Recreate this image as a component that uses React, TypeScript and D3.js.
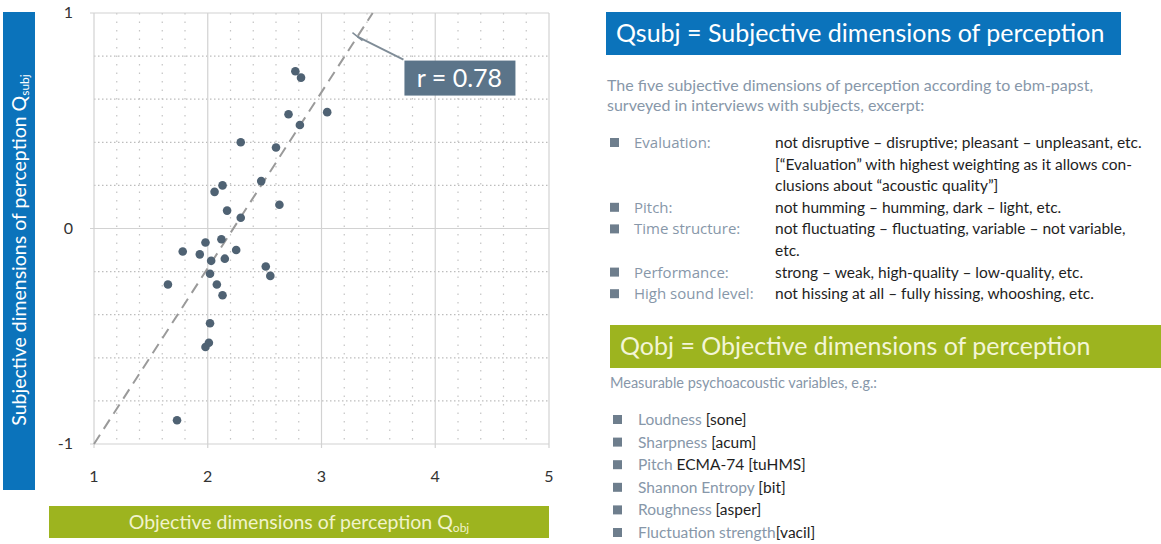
import React, { useEffect, useRef } from 'react';
import * as d3 from 'd3';

// Scatter points: objective (x) vs subjective (y)
const qObj = [2.77, 2.82, 3.05, 2.71, 2.81, 2.29, 2.60, 2.47, 2.06, 2.13, 2.63, 2.17, 2.29, 1.98, 2.12, 2.25, 1.78, 1.93, 2.03, 2.15, 2.51, 2.55, 2.02, 1.65, 2.08, 2.13, 2.02, 2.01, 1.98, 1.73];
const qSubj = [0.73, 0.70, 0.54, 0.53, 0.48, 0.40, 0.376, 0.22, 0.17, 0.20, 0.11, 0.083, 0.05, -0.065, -0.05, -0.10, -0.107, -0.12, -0.15, -0.14, -0.176, -0.22, -0.21, -0.26, -0.26, -0.31, -0.44, -0.53, -0.55, -0.89];

// Regression line endpoints and correlation
const fitX = [1, 3.45];
const fitY = [-1, 1];
const markerX = 3.316;
const rLabel = 'r = 0.78';

const xTicks = [1, 2, 3, 4, 5];
const yTicks = [-1, 0, 1];

const subjItems = [
  { label: 'Evaluation:', lines: ['not disruptive – disruptive; pleasant – unpleasant, etc.', '[“Evaluation” with highest weighting as it allows con-', 'clusions about “acoustic quality”]'] },
  { label: 'Pitch:', lines: ['not humming – humming, dark – light, etc.'] },
  { label: 'Time structure:', lines: ['not fluctuating – fluctuating, variable – not variable,', 'etc.'] },
  { label: 'Performance:', lines: ['strong – weak, high-quality – low-quality, etc.'] },
  { label: 'High sound level:', lines: ['not hissing at all – fully hissing, whooshing, etc.'] },
];

const objItems = [
  { label: 'Loudness ', unit: '[sone]' },
  { label: 'Sharpness ', unit: '[acum]' },
  { label: 'Pitch ', unit: 'ECMA-74 [tuHMS]' },
  { label: 'Shannon Entropy ', unit: '[bit]' },
  { label: 'Roughness ', unit: '[asper]' },
  { label: 'Fluctuation strength', unit: '[vacil]' },
];

const BLUE = '#0b73bb';
const GREEN = '#9db41f';
const SLATE = '#4f6273';
const LABEL = '#8797a9';
const FONT = 'Lato, "Open Sans", sans-serif';

const App: React.FC = () => {
  const ref = useRef<SVGSVGElement | null>(null);

  useEffect(() => {
    if (!ref.current) return;
    const svg = d3.select(ref.current);
    svg.selectAll('*').remove();
    svg.style('font-family', FONT);

    const x = d3.scaleLinear().domain([1, 5]).range([94, 549]);
    const y = d3.scaleLinear().domain([-1, 1]).range([444, 13]);

    const plot = svg.append('g');

    // minor grid (dotted)
    const minorX = d3.range(1, 5, 0.2).filter(v => Math.abs(v - Math.round(v)) > 0.01);
    const minorY = d3.range(-1, 1, 0.2).filter(v => Math.abs(v - Math.round(v)) > 0.01);
    plot.selectAll('.vminor').data(minorX).enter().append('line')
      .attr('x1', d => x(d)).attr('x2', d => x(d))
      .attr('y1', y(1)).attr('y2', y(-1))
      .attr('stroke', '#c4c4c4').attr('stroke-width', 1.2)
      .attr('stroke-dasharray', '1.5,7');
    plot.selectAll('.hminor').data(minorY).enter().append('line')
      .attr('x1', x(1)).attr('x2', x(5))
      .attr('y1', d => y(d)).attr('y2', d => y(d))
      .attr('stroke', '#bdbdbd').attr('stroke-width', 1.2)
      .attr('stroke-dasharray', '1.5,2.5');

    // major grid
    plot.selectAll('.vmajor').data(xTicks).enter().append('line')
      .attr('x1', d => x(d)).attr('x2', d => x(d))
      .attr('y1', y(1)).attr('y2', y(-1) + 4)
      .attr('stroke', '#d2d2d2').attr('stroke-width', 1.2);
    plot.selectAll('.hmajor').data(yTicks).enter().append('line')
      .attr('x1', x(1) - 4).attr('x2', x(5))
      .attr('y1', d => y(d)).attr('y2', d => y(d))
      .attr('stroke', '#d2d2d2').attr('stroke-width', 1.2);

    // tick labels
    plot.selectAll('.xt').data(xTicks).enter().append('text')
      .attr('x', d => x(d)).attr('y', 482)
      .attr('text-anchor', 'middle')
      .attr('font-size', 16).attr('fill', '#333')
      .text(d => String(d));
    plot.selectAll('.yt').data(yTicks).enter().append('text')
      .attr('x', 73).attr('y', d => y(d) + 5)
      .attr('text-anchor', 'end')
      .attr('font-size', 16).attr('fill', '#333')
      .text(d => String(d));

    // regression line
    const fit = fitX.map((v, i) => [v, fitY[i]] as [number, number]);
    plot.append('path')
      .attr('d', d3.line<[number, number]>().x(d => x(d[0])).y(d => y(d[1]))(fit) || '')
      .attr('fill', 'none').attr('stroke', '#9a9a9a').attr('stroke-width', 2)
      .attr('stroke-dasharray', '11,7');

    // callout
    const slope = (fitY[1] - fitY[0]) / (fitX[1] - fitX[0]);
    const my = fitY[0] + slope * (markerX - fitX[0]);
    const mx = x(markerX), myPx = y(my);
    plot.append('line')
      .attr('x1', mx - 5).attr('y1', myPx - 4).attr('x2', mx + 5).attr('y2', myPx + 4)
      .attr('stroke', '#7f8c97').attr('stroke-width', 1.5);
    plot.append('line')
      .attr('x1', mx).attr('y1', myPx).attr('x2', mx + 46).attr('y2', myPx + 23)
      .attr('stroke', '#7f8c97').attr('stroke-width', 1.8);
    plot.append('rect')
      .attr('x', mx + 47).attr('y', myPx + 24).attr('width', 111).attr('height', 35)
      .attr('fill', '#5b7489');
    plot.append('text')
      .attr('x', mx + 102).attr('y', myPx + 50)
      .attr('text-anchor', 'middle').attr('fill', '#fff').attr('font-size', 25)
      .text(rLabel);

    // points
    plot.selectAll('.pt').data(qObj).enter().append('circle')
      .attr('cx', d => x(d)).attr('cy', (_, i) => y(qSubj[i]))
      .attr('r', 4.3).attr('fill', SLATE);

    // y axis title bar
    svg.append('rect').attr('x', 3).attr('y', 12).attr('width', 32).attr('height', 478).attr('fill', BLUE);
    const yt = svg.append('text')
      .attr('transform', 'translate(26,250) rotate(-90)')
      .attr('text-anchor', 'middle').attr('fill', '#fff').attr('font-size', 19.5);
    yt.append('tspan').text('Subjective dimensions of perception Q');
    yt.append('tspan').attr('font-size', 12).attr('dy', 3).text('subj');

    // x axis title bar
    svg.append('rect').attr('x', 49).attr('y', 506).attr('width', 500).attr('height', 32).attr('fill', GREEN);
    const xt = svg.append('text')
      .attr('x', 299).attr('y', 529)
      .attr('text-anchor', 'middle').attr('fill', '#f1f3cc').attr('font-size', 19.5);
    xt.append('tspan').text('Objective dimensions of perception Q');
    xt.append('tspan').attr('font-size', 12).attr('dy', 3).text('obj');

    // right panel: subjective
    svg.append('rect').attr('x', 606).attr('y', 12).attr('width', 515).attr('height', 43).attr('fill', BLUE);
    svg.append('text').attr('x', 616).attr('y', 42).attr('fill', '#fff').attr('font-size', 25)
      .text('Qsubj = Subjective dimensions of perception');

    svg.append('text').attr('x', 607).attr('y', 91).attr('fill', LABEL).attr('font-size', 16)
      .text('The five subjective dimensions of perception according to ebm-papst,');
    svg.append('text').attr('x', 607).attr('y', 111).attr('fill', LABEL).attr('font-size', 16)
      .text('surveyed in interviews with subjects, excerpt:');

    const lineH = 21.6;
    let row = 0;
    subjItems.forEach(item => {
      const by = 148 + row * lineH;
      svg.append('rect').attr('x', 610).attr('y', by - 10).attr('width', 9).attr('height', 9).attr('fill', '#6e7e8d');
      svg.append('text').attr('x', 634).attr('y', by).attr('fill', LABEL).attr('font-size', 15)
        .attr('font-family', '"Open Sans", sans-serif').text(item.label);
      item.lines.forEach((l, j) => {
        svg.append('text').attr('x', 775).attr('y', by + j * lineH).attr('fill', '#1e1e1e').attr('font-size', 15.5).text(l);
      });
      row += item.lines.length;
    });

    // right panel: objective
    svg.append('rect').attr('x', 610).attr('y', 325).attr('width', 551).attr('height', 43).attr('fill', GREEN);
    svg.append('text').attr('x', 620).attr('y', 355).attr('fill', '#f3f5d6').attr('font-size', 25)
      .text('Qobj = Objective dimensions of perception');
    svg.append('text').attr('x', 610).attr('y', 388).attr('fill', LABEL).attr('font-size', 14.5)
      .text('Measurable psychoacoustic variables, e.g.:');

    objItems.forEach((item, i) => {
      const by = 425 + i * 22.6;
      svg.append('rect').attr('x', 613).attr('y', by - 10).attr('width', 9).attr('height', 9).attr('fill', '#6e7e8d');
      const t = svg.append('text').attr('x', 638).attr('y', by).attr('font-size', 15.5);
      t.append('tspan').attr('fill', LABEL).text(item.label);
      t.append('tspan').attr('fill', '#1e1e1e').text(item.unit);
    });
  }, []);

  return (
    <svg ref={ref} width={1161} height={544}
      style={{ position: 'absolute', left: 0, top: 0, background: '#fff' }} />
  );
};

export default App;
